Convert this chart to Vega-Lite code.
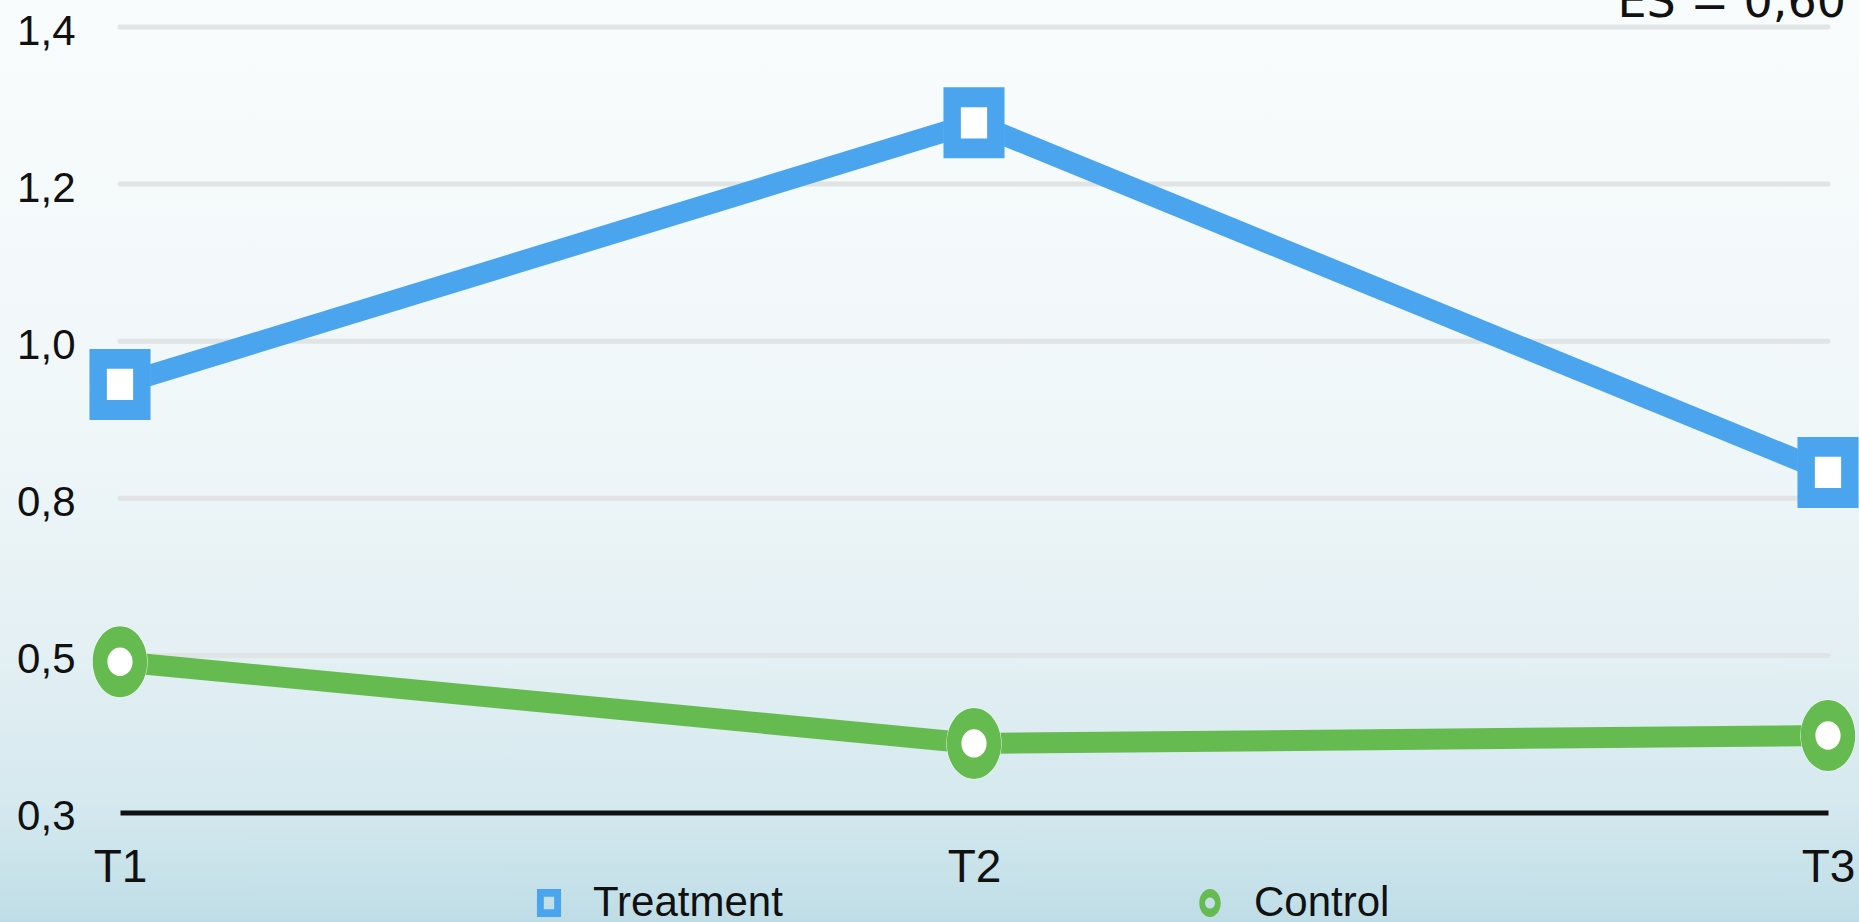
{
  "$schema": "https://vega.github.io/schema/vega-lite/v6.json",
  "width": 1859,
  "height": 922,
  "autosize": {"type": "none"},
  "padding": 0,
  "background": "#f4f9fb",
  "config": {"view": {"stroke": null}},
  "data": {
    "values": [
      {"time": "T1", "group": "Treatment", "value": 0.945},
      {"time": "T2", "group": "Treatment", "value": 1.278},
      {"time": "T3", "group": "Treatment", "value": 0.833},
      {"time": "T1", "group": "Control", "value": 0.492},
      {"time": "T2", "group": "Control", "value": 0.388},
      {"time": "T3", "group": "Control", "value": 0.398}
    ]
  },
  "layer": [
    {
      "data": {"values": [{"bg": 1}]},
      "mark": {
        "type": "rect",
        "color": {
          "gradient": "linear",
          "x1": 0, "y1": 0, "x2": 0, "y2": 1,
          "stops": [
            {"offset": 0, "color": "#f9fcfd"},
            {"offset": 0.45, "color": "#f0f7f9"},
            {"offset": 0.7, "color": "#e4f0f4"},
            {"offset": 0.87, "color": "#d5e9ef"},
            {"offset": 1, "color": "#bfdde7"}
          ]
        }
      },
      "encoding": {}
    },
    {
      "data": {"values": [{"bg": 2}]},
      "mark": {
        "type": "rect",
        "color": {
          "gradient": "radial",
          "x1": 0.5, "y1": 0.2, "r1": 0,
          "x2": 0.5, "y2": 0.2, "r2": 0.9,
          "stops": [
            {"offset": 0, "color": "rgba(130,185,203,0)"},
            {"offset": 0.84, "color": "rgba(130,185,203,0)"},
            {"offset": 1, "color": "rgba(130,185,203,0.55)"}
          ]
        }
      },
      "encoding": {}
    },
    {
      "encoding": {
        "x": {
          "field": "time",
          "type": "ordinal",
          "scale": {"type": "point", "domain": ["T1", "T2", "T3"], "range": [120, 1828], "padding": 0},
          "axis": {
            "orient": "bottom",
            "offset": -109.5,
            "zindex": 1,
            "title": null,
            "domainColor": "#111111",
            "domainWidth": 5,
            "ticks": false,
            "grid": false,
            "labelAngle": 0,
            "labelFont": "Liberation Sans, Arial, sans-serif",
            "labelFontSize": 46,
            "labelColor": "#111111",
            "labelPadding": 69,
            "labelBaseline": "alphabetic",
            "labelFlush": false,
            "labelOverlap": false
          }
        },
        "y": {
          "field": "value",
          "type": "quantitative",
          "scale": {
            "type": "linear",
            "domain": [0.3, 0.5, 0.8, 1.0, 1.2, 1.4],
            "range": [812.5, 655.4, 498.3, 341.2, 184.1, 27],
            "nice": false,
            "zero": false
          },
          "axis": {
            "orient": "left",
            "offset": -120,
            "zindex": 1,
            "title": null,
            "domain": false,
            "ticks": false,
            "grid": false,
            "values": [0.3, 0.5, 0.8, 1.0, 1.2, 1.4],
            "labelExpr": "replace(format(datum.value, '.1f'), '.', ',')",
            "labelFont": "Liberation Sans, Arial, sans-serif",
            "labelFontSize": 42,
            "labelColor": "#111111",
            "labelPadding": 45,
            "labelBaseline": "middle",
            "labelOffset": 4,
            "labelFlush": false,
            "labelOverlap": false
          }
        }
      },
      "layer": [
        {
          "data": {"values": [{"value": 0.5}, {"value": 0.8}, {"value": 1.0}, {"value": 1.2}, {"value": 1.4}]},
          "mark": {"type": "rule", "color": "#e1e4e5", "strokeWidth": 5, "strokeCap": "round"},
          "encoding": {
            "x": {"datum": "T1"},
            "x2": {"datum": "T3"}
          }
        },
        {
          "mark": {"type": "line", "strokeWidth": 21, "strokeCap": "butt"},
          "encoding": {
            "color": {
              "field": "group",
              "type": "nominal",
              "scale": {"domain": ["Treatment", "Control"], "range": ["#4aa5ee", "#66bb50"]},
              "legend": {
                "title": null,
                "orient": "none",
                "direction": "horizontal",
                "legendX": 528,
                "legendY": 882,
                "padding": 0,
                "columnPadding": 406,
                "labelLimit": 0,
                "labelFont": "Liberation Sans, Arial, sans-serif",
                "labelFontSize": 42,
                "labelColor": "#111111",
                "labelOffset": 23,
                "symbolSize": 784,
                "symbolStrokeWidth": 0
              }
            }
          }
        },
        {
          "transform": [{"filter": "datum.group === 'Treatment'"}],
          "mark": {"type": "point", "filled": true, "fill": "white", "opacity": 1, "strokeWidth": 0, "shape": "M-0.86,-1H0.86V1H-0.86Z", "size": 4900}
        },
        {
          "transform": [{"filter": "datum.group === 'Control'"}],
          "mark": {"type": "point", "filled": true, "fill": "white", "opacity": 1, "strokeWidth": 0, "shape": "M0,-1A0.767,1 0 1,1 0,1A0.767,1 0 1,1 0,-1Z", "size": 5184}
        },
        {
          "mark": {"type": "point", "filled": true, "opacity": 1, "strokeWidth": 0},
          "encoding": {
            "color": {
              "field": "group",
              "type": "nominal",
              "scale": {"domain": ["Treatment", "Control"], "range": ["#4aa5ee", "#66bb50"]},
              "legend": {
                "title": null,
                "orient": "none",
                "direction": "horizontal",
                "legendX": 528,
                "legendY": 882,
                "padding": 0,
                "columnPadding": 406,
                "labelLimit": 0,
                "labelFont": "Liberation Sans, Arial, sans-serif",
                "labelFontSize": 42,
                "labelColor": "#111111",
                "labelOffset": 23,
                "symbolSize": 784,
                "symbolStrokeWidth": 0
              }
            },
            "shape": {
              "field": "group",
              "type": "nominal",
              "scale": {
                "domain": ["Treatment", "Control"],
                "range": [
                  "M-0.86,-1H0.86V1H-0.86Z M-0.37,-0.44V0.44H0.37V-0.44Z",
                  "M0,-1A0.767,1 0 1,1 0,1A0.767,1 0 1,1 0,-1Z M0,-0.4A0.356,0.4 0 1,0 0,0.4A0.356,0.4 0 1,0 0,-0.4Z"
                ]
              },
              "legend": {
                "title": null,
                "orient": "none",
                "direction": "horizontal",
                "legendX": 528,
                "legendY": 882,
                "padding": 0,
                "columnPadding": 406,
                "labelLimit": 0,
                "labelFont": "Liberation Sans, Arial, sans-serif",
                "labelFontSize": 42,
                "labelColor": "#111111",
                "labelOffset": 23,
                "symbolSize": 784,
                "symbolStrokeWidth": 0
              }
            },
            "size": {"value": 5041}
          }
        }
      ]
    },
    {
      "data": {"values": [{"note": "ES = 0,60"}]},
      "mark": {"type": "text", "align": "right", "baseline": "alphabetic", "font": "DejaVu Sans", "fontSize": 46, "fill": "#111111", "dx": 18, "dy": -10},
      "encoding": {
        "x": {"datum": "T3"},
        "y": {"datum": 1.4},
        "text": {"field": "note", "type": "nominal"}
      }
    }
  ]
}
